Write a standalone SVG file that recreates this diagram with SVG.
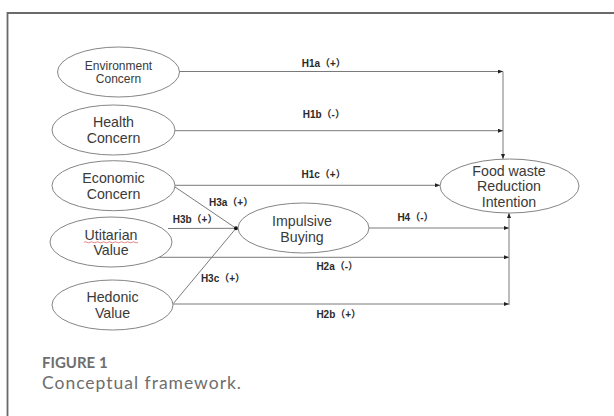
<svg xmlns="http://www.w3.org/2000/svg" width="614" height="416" viewBox="0 0 614 416">
<style>
.node ellipse{fill:#fff;stroke:#858585;stroke-width:1}
.nt{font-family:"Liberation Sans",Arial,sans-serif;font-size:14.2px;fill:#3a3a3a;text-anchor:middle}
.lbl{font-family:"Liberation Sans","Noto Sans CJK SC",sans-serif;font-size:10px;font-weight:bold;fill:#2a2a2a}
.ln{stroke:#7a7a7a;stroke-width:1;fill:none}
.cap1{font-family:Lato,"Liberation Sans",sans-serif;font-weight:bold;font-size:15px;fill:#6e6e6e}
.cap2{font-family:Lato,"Liberation Sans",sans-serif;font-size:17.5px;fill:#6e6e6e}
</style>
<defs>
<marker id="arr" markerWidth="5" markerHeight="4" refX="5" refY="2" orient="auto" markerUnits="userSpaceOnUse">
<path d="M0,0 L5,2 L0,4 z" fill="#222"/>
</marker>
</defs>
<rect x="0" y="0" width="614" height="416" fill="#fff"/>
<path d="M7.5,420 V13 H620" fill="none" stroke="#6a6a6a" stroke-width="1.8"/>

<g id="connectors">
<line class="ln" x1="179" y1="71.5" x2="503" y2="71.5" marker-end="url(#arr)"/>
<line class="ln" x1="503" y1="71.5" x2="503" y2="159" marker-end="url(#arr)"/>
<line class="ln" x1="175" y1="130.7" x2="503" y2="130.7" marker-end="url(#arr)"/>
<line class="ln" x1="175" y1="185.3" x2="440" y2="185.3" marker-end="url(#arr)"/>
<line class="ln" x1="369" y1="228" x2="509" y2="228" marker-end="url(#arr)"/>
<line class="ln" x1="158" y1="257.3" x2="509" y2="257.3" marker-end="url(#arr)"/>
<line class="ln" x1="173" y1="304" x2="509" y2="304" marker-end="url(#arr)"/>
<line class="ln" x1="509" y1="305" x2="509" y2="213" marker-end="url(#arr)"/>
<line class="ln" x1="174.6" y1="186.7" x2="236" y2="228.3"/>
<line class="ln" x1="168" y1="228.5" x2="236" y2="228.3"/>
<line class="ln" x1="173.5" y1="303.3" x2="236" y2="228.3"/>
<circle cx="236" cy="228.3" r="2" fill="#111"/>
<text class="lbl" x="301.7" y="66.5">H1a（+）</text>
<text class="lbl" x="302.7" y="117.7">H1b（-）</text>
<text class="lbl" x="301.5" y="177.7">H1c（+）</text>
<text class="lbl" x="209" y="206">H3a（+）</text>
<text class="lbl" x="172.7" y="223.3">H3b（+）</text>
<text class="lbl" x="397.4" y="221">H4（-）</text>
<text class="lbl" x="316.4" y="270.3">H2a（-）</text>
<text class="lbl" x="200.9" y="281.7">H3c（+）</text>
<text class="lbl" x="316.4" y="317.7">H2b（+）</text>
</g>

<g id="env" class="node">
<ellipse cx="118.5" cy="72" rx="61" ry="25"/>
<text class="nt" x="118.5" y="69.8" style="font-size:12px">Environment</text>
<text class="nt" x="118.5" y="83.3" style="font-size:12px">Concern</text>
</g>
<g id="health" class="node">
<ellipse cx="113.5" cy="130" rx="61.5" ry="25"/>
<text class="nt" x="113.5" y="127">Health</text>
<text class="nt" x="113.5" y="142.5">Concern</text>
</g>
<g id="economic" class="node">
<ellipse cx="113.5" cy="185.7" rx="61.5" ry="25"/>
<text class="nt" x="113.5" y="183.3">Economic</text>
<text class="nt" x="113.5" y="199">Concern</text>
</g>
<g id="utilitarian" class="node">
<ellipse cx="111" cy="242" rx="61" ry="25"/>
<text class="nt" x="111" y="239.7">Utitarian</text>
<path d="M84,242.3 q1.5,-1 3,0 t3,0 t3,0 t3,0 t3,0 t3,0 t3,0 t3,0 t3,0 t3,0 t3,0 t3,0 t3,0 t3,0 t3,0 t3,0 t3,0 t3,0" fill="none" stroke="#e05050" stroke-width="0.7"/>
<text class="nt" x="111" y="255">Value</text>
</g>
<g id="hedonic" class="node">
<ellipse cx="112.5" cy="305" rx="60.5" ry="25"/>
<text class="nt" x="112.5" y="301.7">Hedonic</text>
<text class="nt" x="112.5" y="318">Value</text>
</g>
<g id="impulsive" class="node">
<ellipse cx="303.5" cy="228" rx="65.5" ry="25"/>
<text class="nt" x="302" y="225.7">Impulsive</text>
<text class="nt" x="302" y="241.7">Buying</text>
</g>
<g id="foodwaste" class="node">
<ellipse cx="509.5" cy="186" rx="69.5" ry="27"/>
<text class="nt" x="509" y="175.7">Food waste</text>
<text class="nt" x="509" y="191.3">Reduction</text>
<text class="nt" x="509" y="207">Intention</text>
</g>

<text class="cap1" x="42" y="368">FIGURE 1</text>
<text class="cap2" x="42" y="388.5" textLength="199" lengthAdjust="spacing">Conceptual framework.</text>
</svg>
